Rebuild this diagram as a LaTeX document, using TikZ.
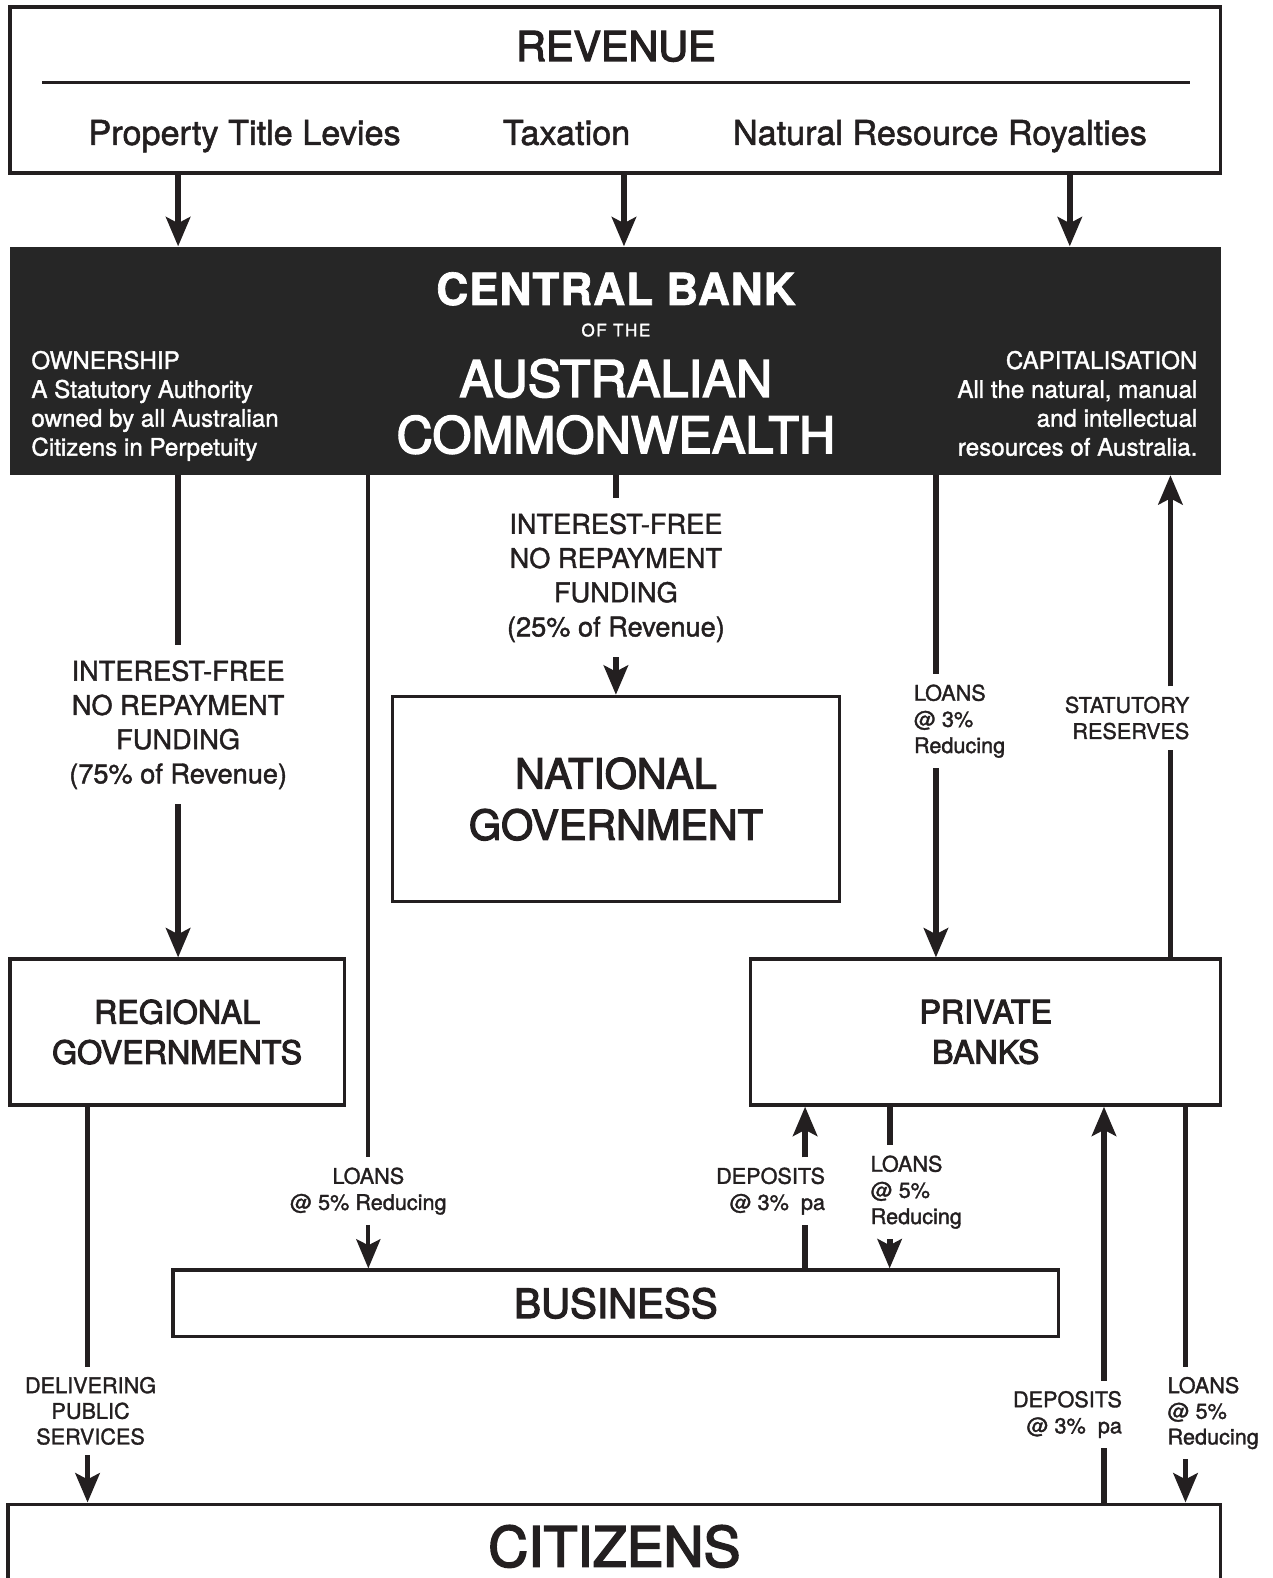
\documentclass[tikz,border=0pt]{standalone}
\usepackage{fontspec}
\setmainfont{TeX Gyre Heros}[FakeBold=1.5]
\usepackage{tikz}
\usetikzlibrary{arrows.meta,positioning}
\definecolor{ink}{HTML}{231F20}
\definecolor{bank}{HTML}{262626}
\newcommand{\fsz}[2]{\fontsize{#1}{#2}\selectfont}
\newcommand{\heavy}{\addfontfeatures{FakeBold=3}}

\begin{document}
\begin{tikzpicture}[x=1pt,y=-1pt,
    box/.style={draw=ink,line width=3.3pt,fill=white,text=ink,inner sep=0pt},
    flow/.style={draw=ink,line width=5.8pt},
    arr/.style={flow,-{Stealth[length=29pt,width=24pt,inset=6pt]}},
    lbl/.style={text=ink,inner xsep=0pt,inner ysep=10pt,font=\fsz{21.5}{26}},
    inv/.style={text=white,inner sep=0pt}]
\useasboundingbox (0,0) rectangle (1264,1568);
\clip (0,0) rectangle (1264,1568);

% columns of the flows
\foreach \n/\x in {cPTL/177,cTax/620,cNRR/1063,cLoanB/366,cNat/612,cLoanP/930,cRes/1163,
                   cPub/87,cDepB/800,cLoanBiz/884,cDepC/1097,cLoanC/1178}
    \coordinate (\n) at (\x,0);

% revenue
\node[box,minimum width=1203pt,minimum height=165pt] (rev) at (611.5,89.5) {};
\node[text=ink,inner sep=0pt,font=\fsz{41}{41}\heavy] (revtitle) at (612,46) {REVENUE};
\draw[ink,line width=2.2pt] (42,82) -- (1182,82);
\foreach \n/\x/\t in {levies/243/Property Title Levies,tax/563/Taxation,royal/934/Natural Resource Royalties}
    \node[text=ink,inner sep=0pt,anchor=base,font=\fsz{34}{34}] (\n) at (\x,144) {\t};

% central bank
\node[fill=bank,minimum width=1203pt,minimum height=227pt,inner sep=0pt] (cb) at (611.5,358.5) {};
\node[inv,font=\bfseries\fsz{44}{44}\addfontfeatures{LetterSpace=2}] (cbtitle) at (612,287) {CENTRAL BANK};
\node[inv,font=\fsz{17}{17}\addfontfeatures{LetterSpace=9}] (cbof) at (612,328) {OF THE};
\node[inv,align=center,font=\fsz{50}{56}\heavy] (cbname) at (612,404) {AUSTRALIAN\\COMMONWEALTH};
\node[inv,align=left,anchor=north west,font=\fsz{24}{28.7}] (owner) at (31,348.5)
    {OWNERSHIP\\A Statutory Authority\\owned by all Australian\\Citizens in Perpetuity};
\node[inv,align=right,anchor=north east,font=\fsz{24}{28.7}] (capital) at (1190,348.5)
    {CAPITALISATION\\All the natural, manual\\and intellectual\\resources of Australia.};

% bodies
\node[box,align=center,minimum width=444pt,minimum height=204pt,font=\fsz{41}{51}\heavy] (natgov) at (612,794) {NATIONAL\\GOVERNMENT};
\node[box,align=center,minimum width=332pt,minimum height=145pt,font=\fsz{32}{40}\heavy] (regional) at (176,1025.5) {REGIONAL\\GOVERNMENTS};
\node[box,align=center,minimum width=467pt,minimum height=145pt,font=\fsz{32}{40}\heavy] (privbank) at (979.5,1025.5) {PRIVATE\\BANKS};
\node[box,minimum width=880pt,minimum height=66pt,font=\fsz{40}{40}\heavy] (business) at (612,1295) {BUSINESS};
\node[box,anchor=north,minimum width=1205pt,text height=42pt,text depth=120pt,inner ysep=20pt,font=\fsz{55}{55}\heavy] (citizens) at (610.5,1493) {CITIZENS};

% labels on the flows
\node[lbl,align=center,anchor=north,inner ysep=15pt,font=\fsz{27}{34}] (fundR) at (177,641)
    {INTEREST-FREE\\NO REPAYMENT\\FUNDING\\(75\% of Revenue)};
\node[lbl,align=center,anchor=north,inner ysep=15pt,font=\fsz{27}{34}] (fundN) at (612,495)
    {INTEREST-FREE\\NO REPAYMENT\\FUNDING\\(25\% of Revenue)};
\node[lbl,align=center,anchor=north] (loanB) at (366,1150) {LOANS\\@ 5\% Reducing};
\node[lbl,align=left,anchor=north west] (loanP) at (908,670) {LOANS\\@ 3\%\\Reducing};
\node[lbl,align=right,anchor=north east] (resv) at (1182,682) {STATUTORY\\RESERVES};
\node[lbl,align=right,anchor=north east] (depB) at (820,1150) {DEPOSITS\\@ 3\%\ \ pa};
\node[lbl,align=left,anchor=north west] (loanBiz) at (865,1138) {LOANS\\@ 5\%\\Reducing};
\node[lbl,align=center,anchor=north,font=\fsz{21.5}{25.5}] (pub) at (90,1358) {DELIVERING\\PUBLIC\\SERVICES};
\node[lbl,align=right,anchor=north east] (depC) at (1115,1372) {DEPOSITS\\@ 3\%\ \ pa};
\node[lbl,align=left,anchor=north west,font=\fsz{21.5}{25.5}] (loanC) at (1160,1358) {LOANS\\@ 5\%\\Reducing};

% revenue into the bank
\foreach \col in {cPTL,cTax,cNRR}
    \draw[arr] (rev.south -| \col) -- (cb.north -| \col);

% flows going down, broken by their label
\foreach \col/\src/\lab/\dst/\w in {cPTL/cb.south/fundR/regional.north/5.8,
        cNat/cb.south/fundN/natgov.north/5.8, cLoanB/cb.south/loanB/business.north/3.8,
        cLoanP/cb.south/loanP/privbank.north/5.8, cLoanBiz/privbank.south/loanBiz/business.north/5.8,
        cPub/regional.south/pub/citizens.north/5.8, cLoanC/privbank.south/loanC/citizens.north/5.8}{
    \draw[flow,line width=\w pt] (\src -| \col) -- (\col |- \lab.north);
    \draw[arr,line width=\w pt] (\col |- \lab.south) -- (\dst -| \col);
}
% flows going up
\foreach \col/\src/\lab/\dst in {cRes/privbank.north/resv/cb.south,
        cDepB/business.north/depB/privbank.south, cDepC/citizens.north/depC/privbank.south}{
    \draw[flow] (\src -| \col) -- (\col |- \lab.south);
    \draw[arr] (\col |- \lab.north) -- (\dst -| \col);
}
\end{tikzpicture}
\end{document}
